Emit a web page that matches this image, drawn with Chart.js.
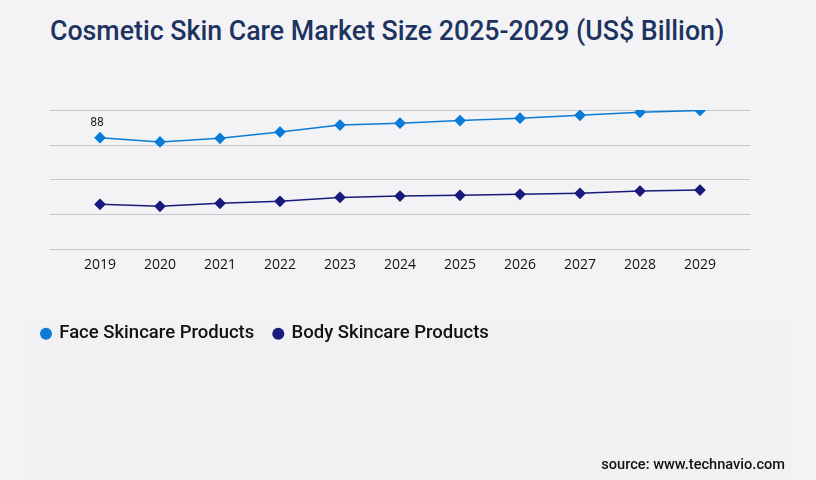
<!DOCTYPE html>
<html>
<head>
<meta charset="utf-8">
<script src="https://cdn.jsdelivr.net/npm/chart.js@4.4.0/dist/chart.umd.min.js"></script>
<style>
  html, body { margin: 0; padding: 0; background: #f3f3f6; }
  #wrap { position: relative; width: 816px; height: 480px; overflow: hidden; }
  #panel { position: absolute; left: 30px; top: 327px; width: 762px; height: 153px; background: #f1f1f3; }
  #title { position: absolute; left: 50px; top: 14px; font-family: Roboto, sans-serif; font-weight: 500;
           font-size: 28px; color: #1d3461; white-space: nowrap; transform-origin: 0 0; }
  #source { position: absolute; right: 31px; top: 455px; font-family: Roboto, sans-serif; font-weight: 500;
            font-size: 14.6px; color: #111; }
  canvas { position: absolute; left: 0; top: 0; }
</style>
</head>
<body>
<div id="wrap">
  <div id="panel"></div>
  <div id="title">Cosmetic Skin Care Market Size 2025-2029 (US$ Billion)</div>
  <canvas id="chart" width="816" height="480"></canvas>
  <div id="source">source: www.technavio.com</div>
</div>
<script>
const years = ["2019", "2020", "2021", "2022", "2023", "2024", "2025", "2026", "2027", "2028", "2029"];
const faceValues = [88, 84.6, 87.5, 92.5, 98, 99.5, 101.6, 103.5, 105.8, 108.2, 109.7];
const bodyValues = [35.1, 33.5, 35.9, 37.5, 40.6, 41.6, 42.2, 43, 43.8, 45.6, 46.4];
const yTicks = [0, 27.5, 55, 82.5, 110];

// squeeze the title to the condensed width of the original
const title = document.getElementById("title");
title.style.transform = "scaleX(" + (674 / title.offsetWidth) + ")";

// horizontal grid lines that run wider than the plot area
const wideGrid = {
  id: "wideGrid",
  beforeDatasetsDraw(chart) {
    const ctx = chart.ctx;
    const y = chart.scales.y;
    ctx.save();
    ctx.strokeStyle = "#c9c9cc";
    ctx.lineWidth = 1;
    yTicks.forEach((t) => {
      const py = Math.round(y.getPixelForValue(t)) + 0.5;
      ctx.beginPath();
      ctx.moveTo(50, py);
      ctx.lineTo(750, py);
      ctx.stroke();
    });
    ctx.restore();
  },
};

// label on the first face point
const firstLabel = {
  id: "firstLabel",
  afterDatasetsDraw(chart) {
    const pt = chart.getDatasetMeta(0).data[0];
    const ctx = chart.ctx;
    ctx.save();
    ctx.font = "12px 'DejaVu Sans Condensed', 'DejaVu Sans', sans-serif";
    ctx.fillStyle = "#222";
    ctx.textAlign = "center";
    ctx.textBaseline = "middle";
    ctx.fillText(String(faceValues[0]), pt.x - 3, pt.y - 15);
    ctx.restore();
  },
};

new Chart(document.getElementById("chart"), {
  type: "line",
  data: {
    labels: years,
    datasets: [
      {
        label: "Face Skincare Products",
        data: faceValues,
        borderColor: "#0a7bd6",
        backgroundColor: "#0a7bd6",
        borderWidth: 1.5,
        pointStyle: "rectRot",
        pointRadius: 4.8,
        pointHoverRadius: 4.8,
        tension: 0,
      },
      {
        label: "Body Skincare Products",
        data: bodyValues,
        borderColor: "#1a1a7c",
        backgroundColor: "#1a1a7c",
        borderWidth: 1.5,
        pointStyle: "rectRot",
        pointRadius: 4.8,
        pointHoverRadius: 4.8,
        tension: 0,
      },
    ],
  },
  options: {
    responsive: false,
    animation: false,
    layout: { padding: { top: 110, left: 22, right: 116, bottom: 127 } },
    plugins: {
      legend: {
        display: true,
        position: "bottom",
        align: "start",
        labels: {
          usePointStyle: true,
          boxWidth: 8,
          boxHeight: 8.5,
          padding: 20,
          color: "#111",
          font: { family: "Roboto", size: 18.5, weight: "500" },
          generateLabels(chart) {
            return chart.data.datasets.map((ds, i) => ({
              text: ds.label,
              fillStyle: ds.borderColor,
              strokeStyle: ds.borderColor,
              lineWidth: 0,
              pointStyle: "circle",
              datasetIndex: i,
              fontColor: "#111",
            }));
          },
        },
      },
      tooltip: { enabled: false },
    },
    scales: {
      x: {
        grid: { display: false },
        border: { display: false },
        ticks: {
          color: "#111",
          font: { family: "'Open Sans', sans-serif", size: 14 },
          padding: 0,
          maxRotation: 0,
        },
        afterFit(scale) { scale.height = 56; },
      },
      y: {
        min: 0,
        max: 110,
        afterBuildTicks(scale) { scale.ticks = yTicks.map((v) => ({ value: v })); },
        grid: { display: false },
        border: { display: false },
        ticks: { display: false },
        afterFit(scale) { scale.width = 78; },
      },
    },
  },
  plugins: [wideGrid, firstLabel],
});
</script>
</body>
</html>
